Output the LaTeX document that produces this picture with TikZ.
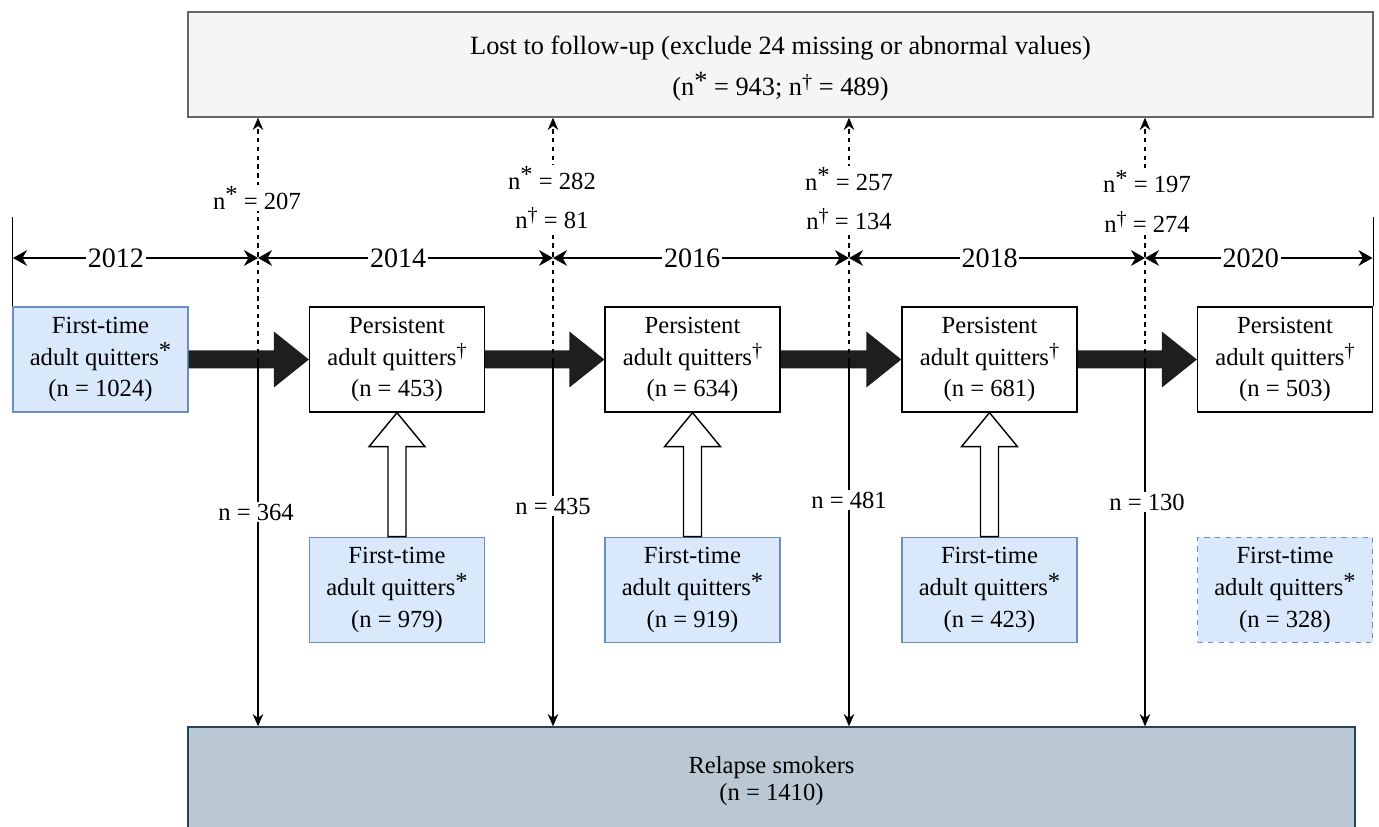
\documentclass[tikz,border=0pt]{standalone}
\usepackage{fontspec}
\setmainfont{Liberation Serif}
\usetikzlibrary{positioning, calc, arrows.meta}
\definecolor{bluefill}{HTML}{DAE8FC}
\definecolor{bluedraw}{HTML}{6C8EBF}
\definecolor{grayfill}{HTML}{F5F5F5}
\definecolor{graydraw}{HTML}{666666}
\definecolor{relfill}{HTML}{BAC8D3}
\definecolor{reldraw}{HTML}{23445D}
\definecolor{arrowfill}{HTML}{1C1F1C}
\newcommand{\supstar}{\raisebox{3.5pt}{*}}
\newcommand{\supdag}{\raisebox{4pt}{\fontsize{11.5}{11.5}\selectfont\textdagger}}
\tikzset{
  box/.style={draw, line width=0.8pt, minimum width=3.5cm, minimum height=2.1cm, inner sep=0pt, align=center, font=\fontsize{14}{18}\selectfont},
  firstbox/.style={box, fill=bluefill, draw=bluedraw},
  persbox/.style={box, fill=white, draw=black},
  nlabel/.style={fill=white, inner sep=1pt, align=center, font=\fontsize{14}{22.7}\selectfont},
  yearlabel/.style={fill=white, inner sep=1pt, font=\fontsize{16}{18}\selectfont},
  yearline/.style={{Stealth[length=8pt,width=9pt]}-{Stealth[length=8pt,width=9pt]}, line width=0.8pt},
  relline/.style={-{Stealth[length=7pt,width=6pt]}, line width=0.8pt},
  lostline/.style={-{Stealth[length=7pt,width=6pt]}, line width=0.8pt, dash pattern=on 2.5pt off 2.5pt},
  fatarrow/.style={fill=arrowfill},
  hollowarrow/.style={draw, fill=white, line width=0.8pt},
}

\begin{document}
\begin{tikzpicture}[x=0.02cm, y=-0.02cm]
        \useasboundingbox (0,0) rectangle (1379,827);
        % riquadro persi al follow-up
        \node[box, fill=grayfill, draw=graydraw, minimum width=23.7cm, font=\fontsize{15}{21.5}\selectfont] (lost) at (780.5,64.5) {\rule{0pt}{15pt}Lost to follow-up (exclude 24 missing or abnormal values)\\[2pt](n\supstar{} = 943; n\supdag{} = 489)};
        % riquadro ricadute
        \node[box, fill=relfill, draw=reldraw, minimum width=23.34cm, minimum height=2.16cm, font=\fontsize{14}{15.5}\selectfont] (rel) at (771.5,781) {Relapse smokers\\(n = 1410)};
        % riquadri 2012
        \node[firstbox] (fq12) at (100.5,359.5) {First-time\\adult quitters\supstar\\(n = 1024)};
        % riquadri 2014
        \node[persbox] (pq14) at (397,359.5) {Persistent\\adult quitters\supdag\\(n = 453)};
        \node[firstbox, below=2.48cm of pq14] (fq14) {First-time\\adult quitters\supstar\\(n = 979)};
        % riquadri 2016
        \node[persbox] (pq16) at (692.5,359.5) {Persistent\\adult quitters\supdag\\(n = 634)};
        \node[firstbox, below=2.48cm of pq16] (fq16) {First-time\\adult quitters\supstar\\(n = 919)};
        % riquadri 2018
        \node[persbox] (pq18) at (989.5,359.5) {Persistent\\adult quitters\supdag\\(n = 681)};
        \node[firstbox, below=2.48cm of pq18] (fq18) {First-time\\adult quitters\supstar\\(n = 423)};
        % riquadri 2020
        \node[persbox] (pq20) at (1285,359.5) {Persistent\\adult quitters\supdag\\(n = 503)};
        \node[firstbox, dashed, below=2.48cm of pq20] (fq20) {First-time\\adult quitters\supstar\\(n = 328)};

        % frecce nere tra le ondate
        \fill[fatarrow] ($(fq12.east)+(0,-9)$) -- ($(pq14.west)+(-35,-9)$) -- ($(pq14.west)+(-35,-28)$) -- (pq14.west) -- ($(pq14.west)+(-35,28)$) -- ($(pq14.west)+(-35,9)$) -- ($(fq12.east)+(0,9)$) -- cycle;
        \fill[fatarrow] ($(pq14.east)+(0,-9)$) -- ($(pq16.west)+(-35,-9)$) -- ($(pq16.west)+(-35,-28)$) -- (pq16.west) -- ($(pq16.west)+(-35,28)$) -- ($(pq16.west)+(-35,9)$) -- ($(pq14.east)+(0,9)$) -- cycle;
        \fill[fatarrow] ($(pq16.east)+(0,-9)$) -- ($(pq18.west)+(-35,-9)$) -- ($(pq18.west)+(-35,-28)$) -- (pq18.west) -- ($(pq18.west)+(-35,28)$) -- ($(pq18.west)+(-35,9)$) -- ($(pq16.east)+(0,9)$) -- cycle;
        \fill[fatarrow] ($(pq18.east)+(0,-9)$) -- ($(pq20.west)+(-35,-9)$) -- ($(pq20.west)+(-35,-28)$) -- (pq20.west) -- ($(pq20.west)+(-35,28)$) -- ($(pq20.west)+(-35,9)$) -- ($(pq18.east)+(0,9)$) -- cycle;

        % frecce vuote verso l'alto
        \draw[hollowarrow] ($(fq14.north)+(-9,0)$) -- ($(pq14.south)+(-9,34)$) -- ($(pq14.south)+(-28,34)$) -- (pq14.south) -- ($(pq14.south)+(28,34)$) -- ($(pq14.south)+(9,34)$) -- ($(fq14.north)+(9,0)$) -- cycle;
        \draw[hollowarrow] ($(fq16.north)+(-9,0)$) -- ($(pq16.south)+(-9,34)$) -- ($(pq16.south)+(-28,34)$) -- (pq16.south) -- ($(pq16.south)+(28,34)$) -- ($(pq16.south)+(9,34)$) -- ($(fq16.north)+(9,0)$) -- cycle;
        \draw[hollowarrow] ($(fq18.north)+(-9,0)$) -- ($(pq18.south)+(-9,34)$) -- ($(pq18.south)+(-28,34)$) -- (pq18.south) -- ($(pq18.south)+(28,34)$) -- ($(pq18.south)+(9,34)$) -- ($(fq18.north)+(9,0)$) -- cycle;

        % linee verticali: ricadute (continue) e persi (tratteggiate)
        \coordinate (s1) at (258,362);
        \coordinate (s2) at (553,362);
        \coordinate (s3) at (849,362);
        \coordinate (s4) at (1145,362);
        \draw[relline] (s1) -- (s1 |- rel.north);
        \draw[lostline] (s1) -- (s1 |- lost.south);
        \draw[relline] (s2) -- (s2 |- rel.north);
        \draw[lostline] (s2) -- (s2 |- lost.south);
        \draw[relline] (s3) -- (s3 |- rel.north);
        \draw[lostline] (s3) -- (s3 |- lost.south);
        \draw[relline] (s4) -- (s4 |- rel.north);
        \draw[lostline] (s4) -- (s4 |- lost.south);

        % asse degli anni
        \coordinate (y0) at (13,258);
        \coordinate (y1) at (258,258);
        \coordinate (y2) at (553,258);
        \coordinate (y3) at (849,258);
        \coordinate (y4) at (1145,258);
        \coordinate (y5) at (1372.5,258);
        \draw[line width=0.8pt] (fq12.north west) -- ++(0,-89);
        \draw[line width=0.8pt] (pq20.north east) -- ++(0,-89);
        \draw[yearline] (y0) -- node[yearlabel, pos=0.42] (yr12) {2012} (y1);
        \draw[yearline] (y1) -- node[yearlabel, pos=0.475] (yr14) {2014} (y2);
        \draw[yearline] (y2) -- node[yearlabel, pos=0.47] (yr16) {2016} (y3);
        \draw[yearline] (y3) -- node[yearlabel, pos=0.475] (yr18) {2018} (y4);
        \draw[yearline] (y4) -- node[yearlabel, pos=0.465] (yr20) {2020} (y5);

        % etichette dei persi
        \node[nlabel] (lo1) at (257,198) {n\supstar{} = 207};
        \node[nlabel] (lo2) at (552,198) {n\supstar{} = 282\\n\supdag{} = 81};
        \node[nlabel] (lo3) at (849,199) {n\supstar{} = 257\\n\supdag{} = 134};
        \node[nlabel] (lo4) at (1147,201) {n\supstar{} = 197\\n\supdag{} = 274};
        % etichette delle ricadute
        \node[nlabel] (re1) at (256,512) {n = 364};
        \node[nlabel] (re2) at (553,506) {n = 435};
        \node[nlabel] (re3) at (849,500) {n = 481};
        \node[nlabel] (re4) at (1147,502) {n = 130};
\end{tikzpicture}
\end{document}
